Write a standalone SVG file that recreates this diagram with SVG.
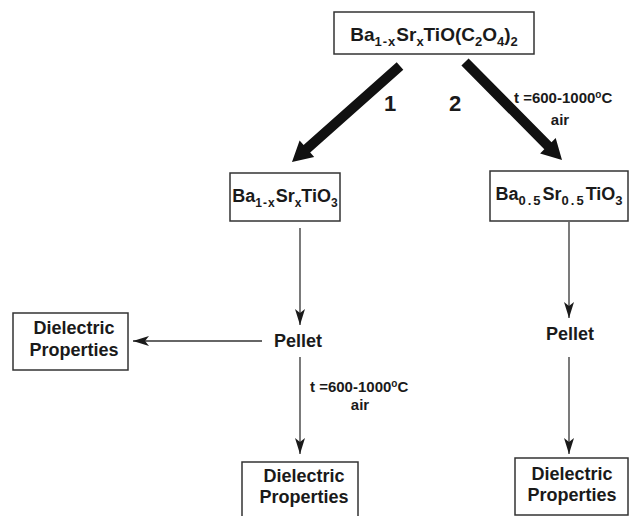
<svg xmlns="http://www.w3.org/2000/svg" width="629" height="516" viewBox="0 0 629 516">
<style>
text{font-family:"Liberation Sans",Arial,sans-serif;font-weight:bold;fill:#1a1a1a}
.box{fill:#fff;stroke:#333;stroke-width:1.5}
.f{font-size:19px}
.m{font-size:18px}
.lbl{font-size:18px;text-anchor:middle}
.t{font-size:15px}
.num{font-size:22px;text-anchor:middle}
.ln{stroke:#333;stroke-width:1.3;fill:none}
.sub{font-size:13px}
.s2{font-size:12px}
</style>
<defs>
<marker id="ah" viewBox="0 0 16 10" refX="16" refY="5" markerWidth="16" markerHeight="10" markerUnits="userSpaceOnUse" orient="auto">
<path d="M0,0 L16,5 L0,10 L4,5 z" fill="#1a1a1a"/>
</marker>
</defs>
<g id="top">
<rect class="box" x="334" y="12" width="200" height="42"/>
<text class="f" x="434" y="41" text-anchor="middle">Ba<tspan class="sub" dy="5" letter-spacing="1">1-x</tspan><tspan dy="-5">Sr</tspan><tspan class="sub" dy="5">x</tspan><tspan dy="-5">TiO(C</tspan><tspan class="sub" dy="5">2</tspan><tspan dy="-5">O</tspan><tspan class="sub" dy="5">4</tspan><tspan dy="-5">)</tspan><tspan class="sub" dy="5">2</tspan></text>
</g>
<g id="bst">
<rect class="box" x="230" y="173" width="110" height="48"/>
<text class="m" x="285" y="202" text-anchor="middle">Ba<tspan class="s2" dy="5" letter-spacing="1">1-x</tspan><tspan dy="-5">Sr</tspan><tspan class="s2" dy="5">x</tspan><tspan dy="-5">TiO</tspan><tspan class="s2" dy="5">3</tspan></text>
</g>
<g id="bst05">
<rect class="box" x="490" y="171" width="138" height="50"/>
<text class="m" x="559" y="200" text-anchor="middle">Ba<tspan class="sub" dy="5" letter-spacing="2">0.5</tspan><tspan dy="-5">Sr</tspan><tspan class="sub" dy="5" letter-spacing="2">0.5</tspan><tspan dy="-5">TiO</tspan><tspan class="sub" dy="5">3</tspan></text>
</g>
<g id="pellet1"><text class="lbl" x="298" y="347">Pellet</text></g>
<g id="pellet2"><text class="lbl" x="570" y="340">Pellet</text></g>
<g id="diel-side">
<rect class="box" x="13" y="313" width="115" height="57"/>
<text class="lbl" x="74" y="334">Dielectric</text>
<text class="lbl" x="74" y="356">Properties</text>
</g>
<g id="diel-left">
<rect class="box" x="242" y="462" width="116" height="70"/>
<text class="lbl" x="304" y="482">Dielectric</text>
<text class="lbl" x="304" y="503">Properties</text>
</g>
<g id="diel-right">
<rect class="box" x="515" y="458" width="113" height="57"/>
<text class="lbl" x="572" y="480">Dielectric</text>
<text class="lbl" x="572" y="501">Properties</text>
</g>
<g id="connectors">
<polygon fill="#111" points="396.7,62.3 403.3,69.7 310.2,152.4 314.2,156.9 292,162 299.6,140.5 303.6,145.0"/>
<polygon fill="#111" points="468.6,58.5 461.4,65.5 544.3,149.3 540.1,153.5 562,160 555.7,138.1 551.5,142.3"/>
<line class="ln" x1="300" y1="228" x2="300" y2="325" marker-end="url(#ah)"/>
<line class="ln" x1="262" y1="341" x2="133" y2="341" marker-end="url(#ah)"/>
<line class="ln" x1="300" y1="357" x2="300" y2="454" marker-end="url(#ah)"/>
<line class="ln" x1="569" y1="222" x2="569" y2="318" marker-end="url(#ah)"/>
<line class="ln" x1="569" y1="357" x2="569" y2="454" marker-end="url(#ah)"/>
<text class="num" x="390" y="111">1</text>
<text class="num" x="455" y="111">2</text>
<text class="t" x="514" y="103">t =600-1000<tspan font-size="10" dy="-5">o</tspan><tspan dy="5">C</tspan></text>
<text class="t" x="560" y="125" text-anchor="middle">air</text>
<text class="t" x="310" y="392">t =600-1000<tspan font-size="10" dy="-5">o</tspan><tspan dy="5">C</tspan></text>
<text class="t" x="360" y="410" text-anchor="middle">air</text>
</g>
</svg>
